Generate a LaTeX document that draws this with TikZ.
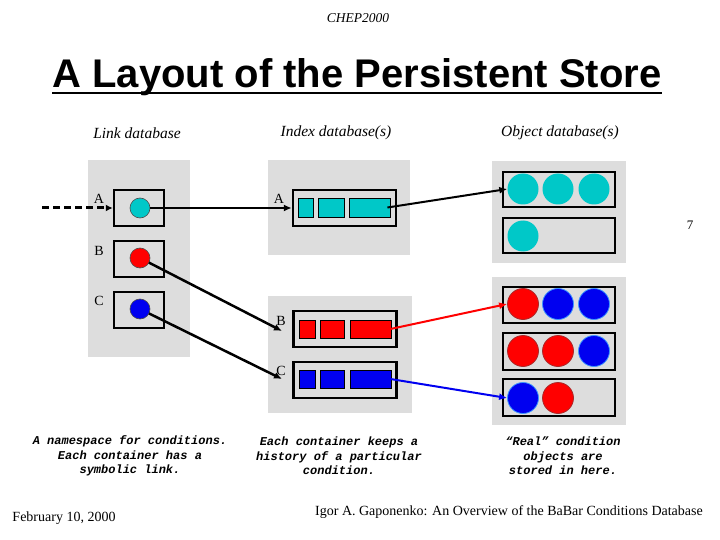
\documentclass[tikz,border=0pt]{standalone}
\usepackage{fontspec}
\setmainfont{Liberation Serif}
\setsansfont{Liberation Sans}
\setmonofont{Liberation Mono}
\usetikzlibrary{arrows.meta}
\definecolor{panelgray}{RGB}{221,221,221}
\definecolor{cyanc}{RGB}{0,200,200}
\definecolor{redc}{RGB}{255,0,0}
\definecolor{bluec}{RGB}{0,0,240}
\definecolor{redborder}{RGB}{170,40,40}
\definecolor{blueborder}{RGB}{60,150,255}
\tikzset{
  txt/.style={inner sep=0pt},
  panel/.style={fill=panelgray},
  lbox/.style={draw=black, line width=2.5pt, minimum width=50pt, minimum height=36pt, inner sep=0pt},
  ibox/.style={draw=black, line width=2.5pt, minimum width=103pt, minimum height=36pt, inner sep=0pt},
  obox/.style={draw=black, line width=2.5pt, minimum width=112pt, minimum height=35pt, inner sep=0pt},
  dot/.style={circle, draw=black!70, line width=0.6pt, minimum size=20pt, inner sep=0pt},
  cell/.style={draw=black, line width=0.8pt, minimum height=19pt, inner sep=0pt},
  obj/.style={circle, minimum size=31pt, inner sep=0pt},
  objc/.style={obj, fill=cyanc},
  objr/.style={obj, fill=redc, draw=redborder, line width=0.8pt},
  objb/.style={obj, fill=bluec, draw=blueborder, line width=0.8pt},
  conn/.style={line width=2.5pt, -{Latex[length=8pt,width=7pt]}},
  lbl/.style={txt, font=\fontsize{14}{16}\selectfont},
  hdr/.style={txt, font=\fontsize{15.5}{18}\selectfont\itshape},
  note/.style={txt, align=center, font=\fontsize{12}{14.5}\selectfont\ttfamily\bfseries\itshape},
}
\begin{document}
\begin{tikzpicture}[x=1pt,y=-1pt]
\useasboundingbox (0,0) rectangle (720,540);
% header
\node[txt, font=\fontsize{13.5}{15}\selectfont\itshape] (chep) at (358,18) {CHEP2000};
\node[txt, anchor=base, font=\fontsize{40}{44}\selectfont\sffamily\bfseries] (title) at (357,88) {A Layout of the Persistent Store};
\draw[line width=2pt] ([yshift=-5pt]title.base west) -- ([yshift=-5pt]title.base east);
\node[hdr] (h1) at (137,133) {Link database};
\node[hdr] (h2) at (336,133) {Index database(s)};
\node[hdr] (h3) at (560,133) {Object database(s)};
% panels
\fill[panel] (88,160) rectangle (190,357);
\fill[panel] (268,160) rectangle (410,255);
\fill[panel] (268,296) rectangle (412,413);
\fill[panel] (492,161) rectangle (626,263);
\fill[panel] (492,277) rectangle (626,425);
% link database
\node[lbox] (la) at (139,208) {};
\node[lbox] (lb) at (139,259) {};
\node[lbox] (lc) at (139,310) {};
\node[lbl] (lla) at (99,199) {A};
\node[lbl] (llb) at (99,251) {B};
\node[lbl] (llc) at (99,301) {C};
\node[dot, fill=cyanc] (ca) at (140,208) {};
\node[dot, fill=redc] (cb) at (140,258) {};
\node[dot, fill=bluec] (cc) at (140,309) {};
% index database A
\node[ibox] (ia) at (344.5,208) {};
\node[cell, fill=cyanc, minimum width=15pt] (ia1) at (305.5,207.5) {};
\node[cell, fill=cyanc, minimum width=26pt] (ia2) at (331,207.5) {};
\node[cell, fill=cyanc, minimum width=41pt] (ia3) at (369.5,207.5) {};
\node[lbl] (ila) at (279,199) {A};
% index database B C
\node[ibox] (ib) at (345,329) {};
\node[cell, fill=redc, minimum width=16pt, minimum height=18pt] (ib1) at (307,329) {};
\node[cell, fill=redc, minimum width=24pt, minimum height=18pt] (ib2) at (332,329) {};
\node[cell, fill=redc, minimum width=41pt, minimum height=18pt] (ib3) at (370.5,329) {};
\node[lbl] (ilb) at (281,321) {B};
\node[ibox] (ic) at (345,380) {};
\node[cell, fill=bluec, minimum width=16pt, minimum height=18pt] (ic1) at (307,379) {};
\node[cell, fill=bluec, minimum width=24pt, minimum height=18pt] (ic2) at (332,379) {};
\node[cell, fill=bluec, minimum width=41pt, minimum height=18pt] (ic3) at (370.5,379) {};
\node[lbl] (ilc) at (281,371) {C};
% object databases
\node[obox] (o1) at (559,189.5) {};
\node[obox] (o2) at (559,235.5) {};
\node[obox, minimum height=36pt] (o3) at (559,305) {};
\node[obox, minimum height=37pt] (o4) at (559,351.5) {};
\node[obox, minimum height=37pt] (o5) at (559,397.5) {};
\node[objc] (o11) at (523,189) {};
\node[objc] (o12) at (558,189) {};
\node[objc] (o13) at (594,189) {};
\node[objc] (o21) at (523,236) {};
\node[objr] (o31) at (523,304) {};
\node[objb] (o32) at (558,304) {};
\node[objb] (o33) at (594,304) {};
\node[objr] (o41) at (523,351) {};
\node[objr] (o42) at (558,351) {};
\node[objb] (o43) at (594,351) {};
\node[objb] (o51) at (523,398) {};
\node[objr] (o52) at (558,398) {};
% connectors
\coordinate (src) at (42,208);
\coordinate (tb) at (282,331);
\coordinate (tc) at (282,379);
\draw[line width=3pt, dash pattern=on 7pt off 4pt, -{Latex[length=7pt,width=7pt]}] (src) -- (la.west);
\draw[conn] (ca.east) -- (ia.west);
\draw[conn, shorten <=10pt] (cb.center) -- (tb);
\draw[conn, shorten <=10pt] (cc.center) -- (tc);
\draw[conn, line width=2pt] ([xshift=-3pt]ia3.east) -- (o11.west);
\draw[conn, line width=2pt, draw=redc, -{Latex[length=8pt,width=7pt]}] ([xshift=-1pt]ib3.east) -- (o31.west);
\draw[conn, line width=2pt, draw=bluec, -{Latex[length=8pt,width=7pt]}] ([xshift=-1pt]ic3.east) -- (o51.west);
% notes
\node[txt, font=\fontsize{13}{15}\selectfont] (pg) at (690,225) {7};
\node[note] (n1) at (130,456) {A namespace for conditions.\\Each container has a\\symbolic link.};
\node[note] (n2) at (339,456) {Each container keeps a\\history of a particular\\condition.};
\node[note] (n3) at (563,456) {“Real” condition\\objects are\\stored in here.};
% footer
\node[txt, font=\fontsize{14}{16}\selectfont] (date) at (64,518) {February 10, 2000};
\node[txt, font=\fontsize{14}{16}\selectfont] (auth) at (509,512) {Igor A. Gaponenko: An Overview of the BaBar Conditions Database};
\end{tikzpicture}
\end{document}
